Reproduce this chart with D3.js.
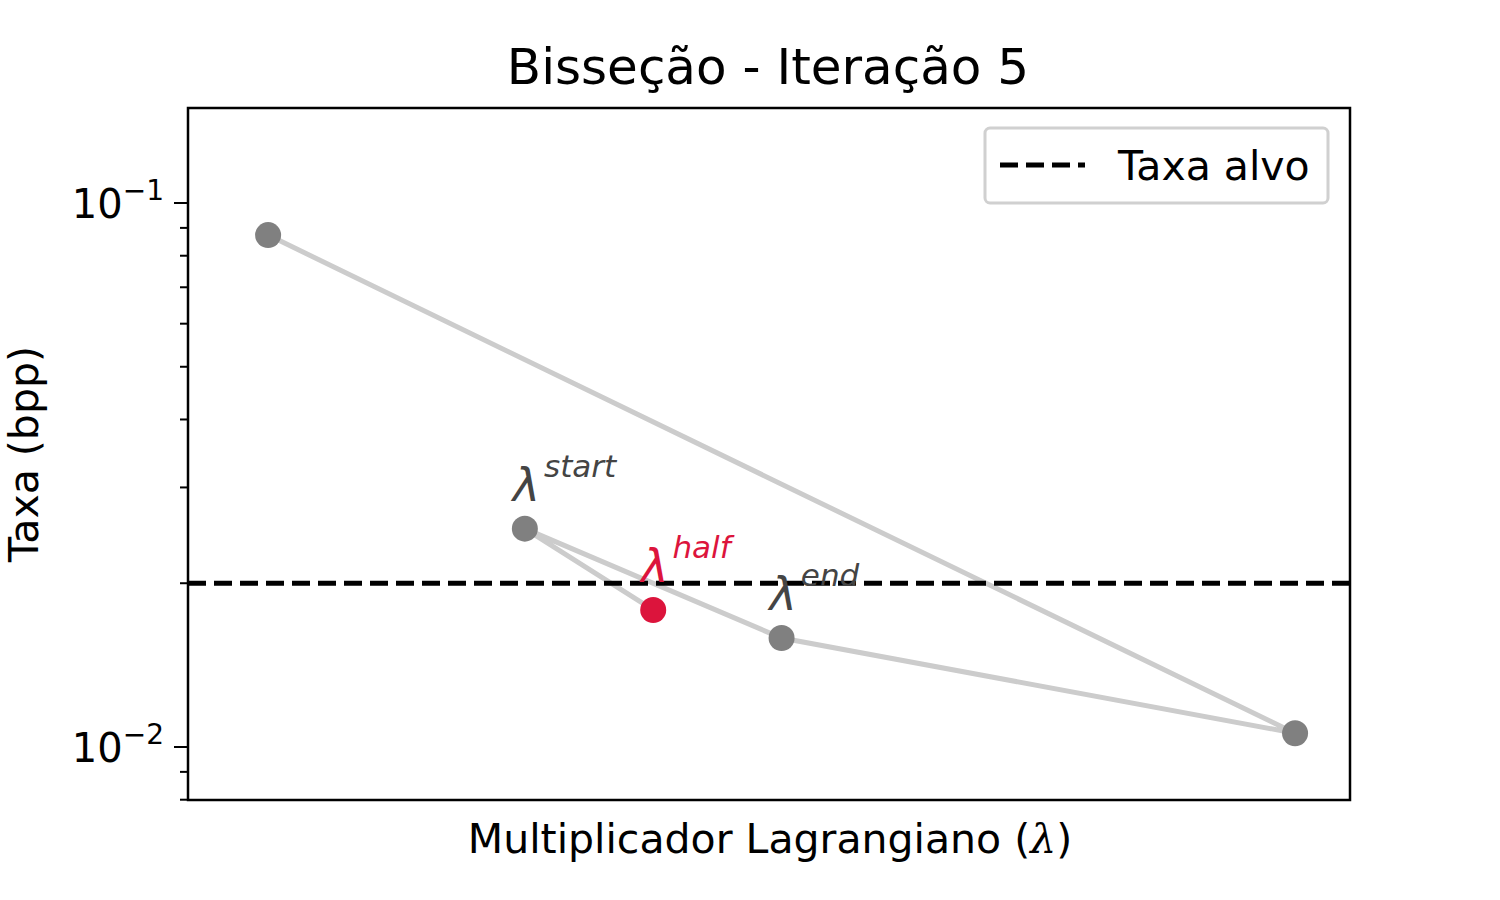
<!DOCTYPE html>
<html><head><meta charset="utf-8">
<script src="https://cdn.jsdelivr.net/npm/d3@7"></script>
<style>body{margin:0;background:#fff}text{font-family:"DejaVu Sans",sans-serif}</style>
</head><body>
<svg id="c" width="1500" height="900"></svg>
<script>
// iteration order of lambda values and their rates
let lambdas = [0, 4, 2, 1, 1.5];
let rates = [0.0873, 0.0106, 0.01586, 0.0252, 0.01786];
let targetRate = 0.0200;
let marks = [
	{i: 3, name: "start", color: "#444444"},
	{i: 4, name: "half", color: "#dc143c"},
	{i: 2, name: "end", color: "#444444"}
];

var svg = d3.select("#c");
var L = 188, R = 1350, T = 108, B = 800;
var x = d3.scaleLinear().domain([-0.312, 4.214]).range([L, R]);
var y = d3.scaleLog().domain([0.00799, 0.1495]).range([B, T]);

svg.append("text").attr("x", 768).attr("y", 84).attr("text-anchor", "middle")
	.attr("font-size", 50).text("Bisseção - Iteração 5");

// y ticks
var major = [0.1, 0.01];
var minor = [];
for (var e = -3; e <= -1; e++) for (var k = 2; k <= 9; k++) {
	var v = k * Math.pow(10, e);
	if (v >= y.domain()[0] && v <= y.domain()[1]) minor.push(v);
}
svg.selectAll(".mn").data(minor).enter().append("line")
	.attr("x1", L - 8).attr("x2", L).attr("y1", d => y(d)).attr("y2", d => y(d))
	.attr("stroke", "#000").attr("stroke-width", 2);
svg.selectAll(".mj").data(major).enter().append("line")
	.attr("x1", L - 14).attr("x2", L).attr("y1", d => y(d)).attr("y2", d => y(d))
	.attr("stroke", "#000").attr("stroke-width", 2);
var tl = svg.selectAll(".tl").data(major).enter().append("text")
	.attr("x", L - 24).attr("y", d => y(d) + 15).attr("text-anchor", "end").attr("font-size", 40);
tl.append("tspan").text("10");
tl.append("tspan").attr("dy", -18).attr("font-size", 28).text(d => "\u2212" + Math.round(-Math.log10(d)));

svg.append("text").attr("transform", "translate(38," + ((T + B) / 2) + ") rotate(-90)")
	.attr("text-anchor", "middle").attr("font-size", 41).text("Taxa (bpp)");
var xl = svg.append("text").attr("x", 770).attr("y", 853).attr("text-anchor", "middle").attr("font-size", 41);
xl.append("tspan").text("Multiplicador Lagrangiano (");
xl.append("tspan").attr("font-family", "DejaVu Serif").attr("font-style", "italic").text("λ");
xl.append("tspan").text(")");

// path
var pts = lambdas.map((l, i) => [l, rates[i]]);
svg.append("path").attr("d", d3.line().x(d => x(d[0])).y(d => y(d[1]))(pts))
	.attr("fill", "none").attr("stroke", "#cccccc").attr("stroke-width", 5);

svg.append("line").attr("x1", L).attr("x2", R).attr("y1", y(targetRate)).attr("y2", y(targetRate))
	.attr("stroke", "#000").attr("stroke-width", 5).attr("stroke-dasharray", "18,8");

svg.selectAll(".pt").data(pts).enter().append("circle")
	.attr("cx", d => x(d[0])).attr("cy", d => y(d[1])).attr("r", 13)
	.attr("fill", (d, i) => i === 4 ? "#dc143c" : "#808080");

// lambda labels
var lb = svg.selectAll(".lb").data(marks).enter().append("text")
	.attr("x", d => x(lambdas[d.i]) - 12).attr("y", d => y(rates[d.i]) - 28)
	.attr("fill", d => d.color).attr("font-family", "DejaVu Serif").attr("font-style", "italic");
lb.append("tspan").attr("font-size", 46).text("λ");
lb.append("tspan").attr("dy", -24).attr("dx", 4).attr("font-size", 31).text(d => d.name);

// frame
svg.append("rect").attr("x", L).attr("y", T).attr("width", R - L).attr("height", B - T)
	.attr("fill", "none").attr("stroke", "#000").attr("stroke-width", 2.5);

// legend
svg.append("rect").attr("x", 985).attr("y", 128).attr("width", 343).attr("height", 75).attr("rx", 5)
	.attr("fill", "#fff").attr("stroke", "#d0d0d0").attr("stroke-width", 3);
svg.append("line").attr("x1", 1000).attr("x2", 1085).attr("y1", 165).attr("y2", 165)
	.attr("stroke", "#000").attr("stroke-width", 5).attr("stroke-dasharray", "18,8");
svg.append("text").attr("x", 1118).attr("y", 180).attr("font-size", 41).text("Taxa alvo");
</script>
</body></html>
